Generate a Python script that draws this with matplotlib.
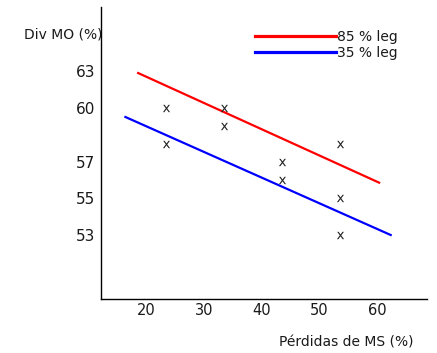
import numpy as np
import matplotlib.pyplot as plt
from matplotlib.lines import Line2D

# datos
perdidas_ms = [23.5, 23.5, 33.5, 33.5, 43.5, 43.5, 53.5, 53.5, 53.5]
div_mo = [60, 58, 60, 59, 57, 56, 58, 55, 53]

leg85_x = [18.6, 60.3]
leg85_y = [62.85, 55.84]
leg35_x = [16.4, 62.3]
leg35_y = [59.48, 53]

x_ticks = [20, 30, 40, 50, 60]
y_ticks = [53, 55, 57, 60, 63]
etiquetas = ["85 % leg", "35 % leg"]

# el eje y del original no es lineal: alturas (px) de cada marca
alturas = [64, 101.5, 136.8, 191.5, 227.8]
anc_v = [40] + y_ticks + [80]
anc_h = [alturas[0] - 13 * 18.75] + alturas + [alturas[-1] + 17 * 12.1]

def fwd(v):
	return np.interp(v, anc_v, anc_h)

def inv(h):
	return np.interp(h, anc_h, anc_v)

fig = plt.figure(figsize=(4.37, 3.53), dpi=100)
ax = fig.add_axes([101 / 437, 1 - 299 / 353, 326 / 437, 292 / 353])
ax.set_yscale('function', functions=(fwd, inv))
ax.set_xlim(12.18, 68.58)
ax.set_ylim(inv(0), inv(292))

ax.plot(leg85_x, leg85_y, color='#ff0000', lw=1.6)
ax.plot(leg35_x, leg35_y, color='#0000ff', lw=1.6)
ax.plot(perdidas_ms, div_mo, linestyle='none', marker=r'$\mathsf{x}$',
	markersize=5.3, color='#222222', markeredgewidth=0)

ax.spines['top'].set_visible(False)
ax.spines['right'].set_visible(False)
ax.spines['left'].set_linewidth(1)
ax.spines['bottom'].set_linewidth(1)
ax.set_xticks(x_ticks)
ax.set_yticks(y_ticks)
ax.set_yticklabels([str(t) for t in y_ticks])
ax.tick_params(axis='y', length=0, pad=4, labelsize=11, labelcolor='#1a1a1a')
ax.tick_params(axis='x', length=0, pad=3, labelsize=10.5, labelcolor='#1a1a1a')
ax.minorticks_off()

fig.text(24 / 437, 1 - 34 / 353, "Div MO (%)", ha='left', va='center',
	fontsize=10, color='#1a1a1a')
fig.text(279 / 437, 1 - 343 / 353, "Pérdidas de MS (%)", ha='left', va='center',
	fontsize=10, color='#1a1a1a')

handles = [Line2D([], [], color='#ff0000', lw=2.3),
	Line2D([], [], color='#0000ff', lw=2.3)]
fig.legend(handles, etiquetas, loc='upper left', bbox_to_anchor=(255 / 437, 1 - 29.5 / 353),
	frameon=False, fontsize=10, handlelength=5.8, handletextpad=0.08,
	borderpad=0, borderaxespad=0, labelspacing=0.17, labelcolor='#1a1a1a')

fig.savefig('out.png', dpi=100)
